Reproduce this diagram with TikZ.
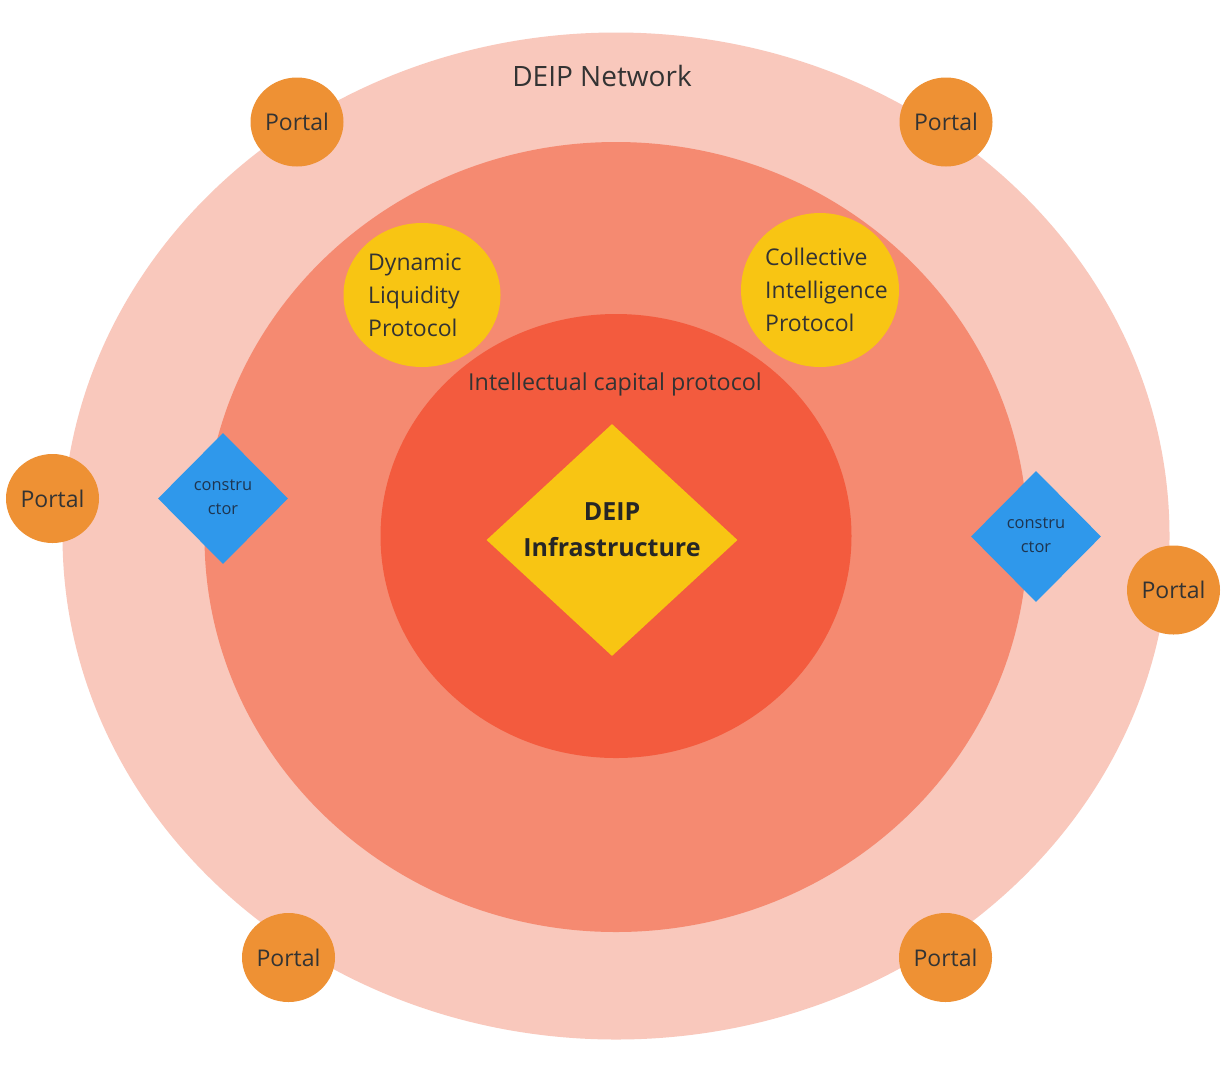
\documentclass[tikz,border=0pt]{standalone}
\usepackage{fontspec}
\setmainfont{Open Sans}
\usetikzlibrary{shapes.geometric}
\definecolor{ringA}{HTML}{F9C8BC}
\definecolor{ringB}{HTML}{F58A71}
\definecolor{ringC}{HTML}{F35B3E}
\definecolor{sun}{HTML}{F8C513}
\definecolor{portalc}{HTML}{EE9134}
\definecolor{bluec}{HTML}{2F98EB}
\definecolor{ink}{HTML}{333333}
\definecolor{navy}{HTML}{1E3550}
\tikzset{
  blob/.style={ellipse, inner sep=0pt, draw=none},
  portal/.style={blob, fill=portalc, minimum width=93pt, minimum height=89pt,
     text=ink, font=\fontsize{23}{28}\selectfont},
  proto/.style={blob, fill=sun},
  ctor/.style={diamond, fill=bluec, inner sep=0pt, minimum width=130pt, minimum height=131pt},
  ctortext/.style={text=navy, align=center, font=\fontsize{16.4}{24}\selectfont},
  lbl/.style={text=ink, inner sep=0pt},
}
\begin{document}
\begin{tikzpicture}[x=1pt,y=-1pt]
\fill[white] (0,0) rectangle (1230,1069);
\useasboundingbox (0,0) rectangle (1230,1069);
% rings
\node[blob, fill=ringA, minimum width=1107pt, minimum height=1007pt] (outer) at (616,536) {};
\node[blob, fill=ringB, minimum width=823pt, minimum height=790pt] (middle) at (616,537) {};
\node[blob, fill=ringC, minimum width=471pt, minimum height=444pt] (inner) at (616,536) {};
% labels of rings
\node[lbl, font=\fontsize{28}{32}\selectfont] (netlbl) at (602,76) {DEIP Network};
\node[lbl, font=\fontsize{23.3}{28}\selectfont] (icplbl) at (615,384) {Intellectual capital protocol};
% protocols
\node[proto, minimum width=157pt, minimum height=144pt] (dlp) at (422,295) {};
\node[lbl, anchor=west, align=left, font=\fontsize{23}{33}\selectfont] (dlptext) at (368,295) {Dynamic\\Liquidity\\Protocol};
\node[proto, minimum width=158pt, minimum height=154pt] (cip) at (820,290) {};
\node[lbl, anchor=west, align=left, font=\fontsize{23}{33}\selectfont] (ciptext) at (765,290) {Collective\\Intelligence\\Protocol};
% core
\node[diamond, fill=sun, inner sep=0pt, minimum width=251pt, minimum height=232pt] (core) at (612,540) {};
\node[lbl, text=black!85, align=center, font=\fontsize{25}{36}\selectfont\bfseries] (coretext) at (612,530) {DEIP\\Infrastructure};
% constructors
\node[ctor] (ctorL) at (223,498.5) {};
\node[ctortext] (ctorLtext) at (223,497) {constru\\ctor};
\node[ctor] (ctorR) at (1036,536.5) {};
\node[ctortext] (ctorRtext) at (1036,535) {constru\\ctor};
% portals
\node[portal] (p1) at (297,122) {Portal};
\node[portal] (p2) at (946,122) {Portal};
\node[portal] (p3) at (52.5,498.5) {Portal};
\node[portal] (p4) at (1173.5,590) {Portal};
\node[portal] (p5) at (288.5,957.5) {Portal};
\node[portal] (p6) at (945.5,957.5) {Portal};
\end{tikzpicture}
\end{document}
